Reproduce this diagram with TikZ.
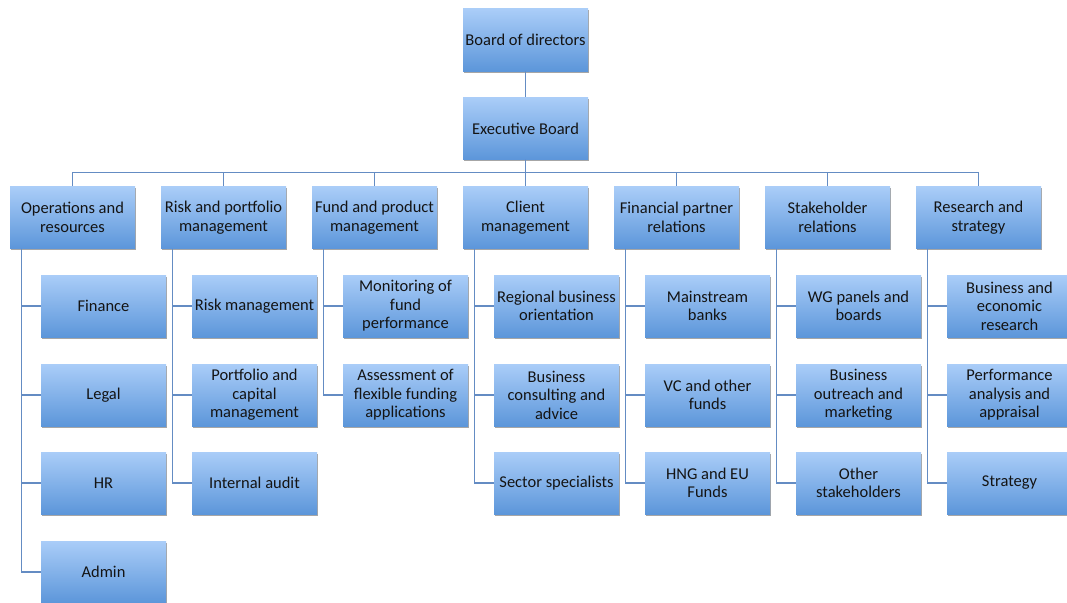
\documentclass[tikz,border=0pt]{standalone}
\usepackage{fontspec}
\setmainfont{Carlito}
\usetikzlibrary{shadows,calc}
\definecolor{boxtop}{RGB}{170,205,248}
\definecolor{boxbot}{RGB}{92,150,218}
\definecolor{linec}{RGB}{100,140,195}
\definecolor{txt}{RGB}{20,20,20}
\tikzset{
  orgbox/.style={rectangle, minimum width=125pt, minimum height=62pt, inner sep=1pt,
    top color=boxtop, bottom color=boxbot, align=center, text=txt,
    font=\fontsize{16.5}{18.5}\selectfont,
    drop shadow={shadow xshift=1.2pt, shadow yshift=-1.5pt, fill=black, opacity=0.35}},
  conn/.style={draw=linec, line width=1.2pt}
}
\begin{document}
\begin{tikzpicture}[x=1pt,y=-1pt]
\useasboundingbox (0,0) rectangle (1067,602);
% top
\node[orgbox] (B) at (525.5,40) {Board of directors};
\node[orgbox] (E) at (525.5,128.5) {Executive Board};
% level 2 (centres x = 72.5 + 151 i)
\node[orgbox] (T0) at (72.5,217.5) {Operations and\\resources};
\node[orgbox] (T1) at (223.5,217.5) {Risk and portfolio\\management};
\node[orgbox] (T2) at (374.5,217.5) {Fund and product\\management};
\node[orgbox] (T3) at (525.5,217.5) {Client\\management};
\node[orgbox] (T4) at (676.5,217.5) {Financial partner\\relations};
\node[orgbox] (T5) at (827.5,217.5) {Stakeholder\\relations};
\node[orgbox] (T6) at (978.5,217.5) {Research and\\strategy};
% children (centres x = 103.5 + 151 i)
\node[orgbox] (C0a) at (103.5,306) {Finance};
\node[orgbox] (C0b) at (103.5,395) {Legal};
\node[orgbox] (C0c) at (103.5,483) {HR};
\node[orgbox] (C0d) at (103.5,572) {Admin};
\node[orgbox] (C1a) at (254.5,306) {Risk management};
\node[orgbox] (C1b) at (254.5,395) {Portfolio and\\capital\\management};
\node[orgbox] (C1c) at (254.5,483) {Internal audit};
\node[orgbox] (C2a) at (405.5,306) {Monitoring of\\fund\\performance};
\node[orgbox] (C2b) at (405.5,395) {Assessment of\\flexible funding\\applications};
\node[orgbox] (C3a) at (556.5,306) {Regional business\\orientation};
\node[orgbox] (C3b) at (556.5,395) {Business\\consulting and\\advice};
\node[orgbox] (C3c) at (556.5,483) {Sector specialists};
\node[orgbox] (C4a) at (707.5,306) {Mainstream\\banks};
\node[orgbox] (C4b) at (707.5,395) {VC and other\\funds};
\node[orgbox] (C4c) at (707.5,483) {HNG and EU\\Funds};
\node[orgbox] (C5a) at (858.5,306) {WG panels and\\boards};
\node[orgbox] (C5b) at (858.5,395) {Business\\outreach and\\marketing};
\node[orgbox] (C5c) at (858.5,483) {Other\\stakeholders};
\node[orgbox] (C6a) at (1009.5,306) {Business and\\economic\\research};
\node[orgbox] (C6b) at (1009.5,395) {Performance\\analysis and\\appraisal};
\node[orgbox] (C6c) at (1009.5,483) {Strategy};
% connectors
\draw[conn] (B.south) -- (E.north);
\foreach \t in {T0,T1,T2,T3,T4,T5,T6}
  \draw[conn] (E.south) -- ++(0,13) -| (\t.north);
\foreach \p/\c in {T0/C0a,T0/C0b,T0/C0c,T0/C0d,T1/C1a,T1/C1b,T1/C1c,T2/C2a,T2/C2b,
                   T3/C3a,T3/C3b,T3/C3c,T4/C4a,T4/C4b,T4/C4c,T5/C5a,T5/C5b,T5/C5c,
                   T6/C6a,T6/C6b,T6/C6c}
  \draw[conn] ($(\p.south west)+(12,0)$) |- (\c.west);
\end{tikzpicture}
\end{document}
